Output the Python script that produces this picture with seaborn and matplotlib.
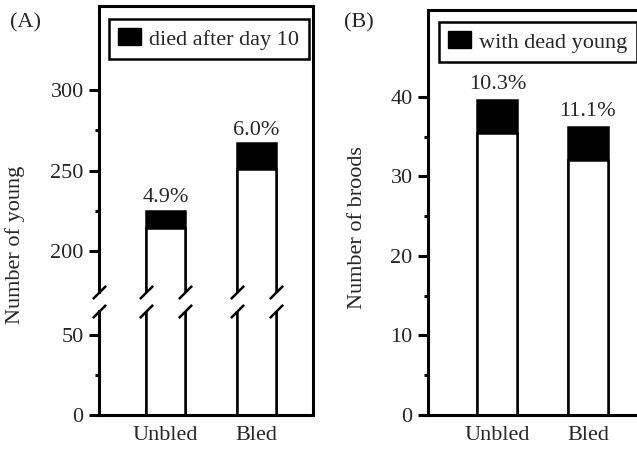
import matplotlib
matplotlib.use("Agg")
import matplotlib.pyplot as plt
import matplotlib.transforms as mtransforms
from matplotlib.patches import Patch
from matplotlib.lines import Line2D
from matplotlib.ticker import FixedLocator
import seaborn as sns
import pandas as pd

# ---------------- data ----------------
groups = ["Unbled", "Bled"]
young_total = [225, 267]
young_alive = [214, 251]
young_pct = ["4.9%", "6.0%"]
broods_total = [39.6, 36.2]
broods_alive = [35.5, 32.0]
broods_pct = ["10.3%", "11.1%"]
ticks_a_upper = [200, 250, 300]
minor_a_upper = [225, 275]
ticks_a_lower = [0, 50]
minor_a_lower = [25]
ticks_b = [0, 10, 20, 30, 40]
minor_b = [5, 15, 25, 35]

sns.set_style("ticks")
plt.rcParams["font.family"] = ["Liberation Serif", "DejaVu Serif"]
FS = 16
LW_SPINE = 2.2
LW_BAR = 1.8

W, H = 637, 449
fig = plt.figure(figsize=(W / 100, H / 100), dpi=100)


def px_axes(x0, y0, x1, y1):
    return fig.add_axes([x0 / W, 1 - y1 / H, (x1 - x0) / W, (y1 - y0) / H])


ax_up = px_axes(99, 6, 313, 292)
ax_lo = px_axes(99, 311, 313, 415)
ax_b = px_axes(428, 10, 650, 415)


def draw_bars(ax, totals, alive, width):
    df_t = pd.DataFrame({"group": groups, "n": totals})
    df_a = pd.DataFrame({"group": groups, "n": alive})
    sns.barplot(data=df_t, x="group", y="n", ax=ax, color="black",
                edgecolor="black", linewidth=LW_BAR, width=width,
                saturation=1, errorbar=None)
    sns.barplot(data=df_a, x="group", y="n", ax=ax, color="white",
                edgecolor="black", linewidth=LW_BAR, width=width,
                saturation=1, errorbar=None)


def style_axis(ax, major, minor):
    ax.yaxis.set_major_locator(FixedLocator(major))
    ax.yaxis.set_minor_locator(FixedLocator(minor))
    ax.tick_params(axis="y", which="major", length=7, width=LW_SPINE,
                   labelsize=FS, pad=4, color="black")
    ax.tick_params(axis="y", which="minor", length=3, width=LW_SPINE,
                   color="black")
    ax.tick_params(axis="x", length=0, labelsize=FS, pad=8)
    for s in ax.spines.values():
        s.set_linewidth(LW_SPINE)
        s.set_color("black")
    ax.set_xlabel("")
    ax.set_ylabel("")


def pct_labels(ax, texts, offset):
    bars = ax.patches[:len(groups)]
    for p, t in zip(bars, texts):
        ax.annotate(t, xy=(p.get_x() + p.get_width() / 2, p.get_height()),
                    xytext=(0, offset), textcoords="offset points",
                    ha="center", va="baseline", fontsize=FS)


def add_legend(ax, label, anchor_px):
    leg = ax.legend(handles=[Patch(facecolor="black", edgecolor="black",
                                   label=label)],
                    loc="upper left",
                    bbox_to_anchor=(anchor_px[0] / W, 1 - anchor_px[1] / H),
                    bbox_transform=fig.transFigure, borderaxespad=0,
                    fancybox=False, edgecolor="black", framealpha=1,
                    handlelength=1.0, handleheight=0.8, handletextpad=0.4,
                    borderpad=0.42, fontsize=FS)
    leg.get_frame().set_linewidth(LW_BAR)
    return leg


# ---------------- Panel A ----------------
for ax in (ax_up, ax_lo):
    draw_bars(ax, young_total, young_alive, 0.43)
    ax.set_xlim(-0.731, 1.621)

ax_up.set_ylim(174.4, 352.5)
ax_lo.set_ylim(0, 65)
style_axis(ax_up, ticks_a_upper, minor_a_upper)
style_axis(ax_lo, ticks_a_lower, minor_a_lower)
ax_up.spines["bottom"].set_visible(False)
ax_up.spines["right"].set_visible(False)
ax_up.tick_params(axis="x", labelbottom=False)
ax_lo.spines["top"].set_visible(False)
ax_lo.spines["right"].set_visible(False)
pct_labels(ax_up, young_pct, 6)

# continuous right frame line of panel A
pu, pl = ax_up.get_position(), ax_lo.get_position()
fig.add_artist(Line2D([pu.x1, pu.x1], [pl.y0, pu.y1], transform=fig.transFigure,
                      color="black", lw=LW_SPINE, solid_capstyle="projecting"))

# break marks on the left axis and on every bar edge
edges = sorted({round(v, 6) for p in ax_up.patches[:len(groups)]
                for v in (p.get_x(), p.get_x() + p.get_width())})
for ax, yy in ((ax_up, 0), (ax_lo, 1)):
    tr = mtransforms.blended_transform_factory(ax.transData, ax.transAxes)
    xs = [ax.get_xlim()[0]] + edges
    ax.plot(xs, [yy] * len(xs), transform=tr, linestyle="none",
            marker=[(-1, -1), (1, 1)], markersize=9.5, markeredgewidth=LW_BAR,
            color="black", clip_on=False)

add_legend(ax_up, "died after day 10", (109, 19))

# ---------------- Panel B ----------------
draw_bars(ax_b, broods_total, broods_alive, 0.44)
ax_b.set_xlim(-0.766, 1.687)
ax_b.set_ylim(0, 50.9)
style_axis(ax_b, ticks_b, minor_b)
pct_labels(ax_b, broods_pct, 8)
add_legend(ax_b, "with dead young", (439, 22))

# ---------------- texts ----------------
fig.text(26 / W, 1 - 23 / H, "(A)", ha="center", va="center", fontsize=FS)
fig.text(359 / W, 1 - 23 / H, "(B)", ha="center", va="center", fontsize=FS)
fig.text(15 / W, 1 - 245 / H, "Number of young", rotation=90,
         ha="center", va="center", fontsize=FS)
fig.text(357 / W, 1 - 228 / H, "Number of broods", rotation=90,
         ha="center", va="center", fontsize=FS)

fig.savefig("out.png", dpi=100)
